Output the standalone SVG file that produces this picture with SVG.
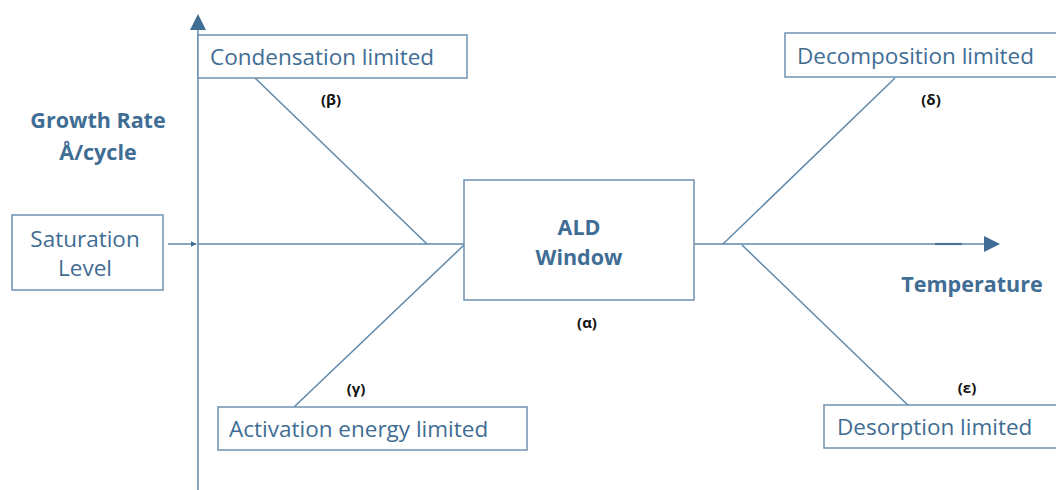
<svg xmlns="http://www.w3.org/2000/svg" width="1056" height="490" viewBox="0 0 1056 490">
<defs>
<style>
.box{fill:#fff;stroke:#6e93b2;stroke-width:1.5}
.ln{stroke:#5f88aa;stroke-width:1.5;fill:none}
.t{font-family:"Open Sans","Liberation Sans",sans-serif;fill:#3f6d94;font-size:22.5px}
.b{font-family:"Open Sans","Liberation Sans",sans-serif;fill:#3f6d94;font-size:21.5px;font-weight:bold}
.g{font-family:"Open Sans","Liberation Sans",sans-serif;fill:#111;font-size:15px;font-weight:bold;text-anchor:middle}
</style>
<marker id="ah" viewBox="0 0 10 10" refX="9" refY="5" markerWidth="6" markerHeight="6" orient="auto" markerUnits="userSpaceOnUse"><path d="M0,0L10,5L0,10z" fill="#3f6d94"/></marker>
</defs>
<rect width="1056" height="490" fill="#fff"/>
<g id="connectors">
<line class="ln" x1="198" y1="490" x2="198" y2="28"/>
<path d="M190,30L198,14L206,30z" fill="#3f6d94"/>
<line class="ln" x1="198" y1="244" x2="464" y2="244"/>
<line class="ln" x1="694" y1="244" x2="988" y2="244"/>
<line x1="935" y1="244" x2="962" y2="244" stroke="#4a7598" stroke-width="2.2"/>
<path d="M984,236L1000,244L984,252z" fill="#3f6d94"/>
<line class="ln" x1="168" y1="244" x2="196" y2="244" marker-end="url(#ah)"/>
<line class="ln" x1="255" y1="78" x2="427" y2="244"/>
<line class="ln" x1="464" y1="245" x2="293" y2="408"/>
<line class="ln" x1="723" y1="244" x2="895" y2="78"/>
<line class="ln" x1="742" y1="245" x2="913" y2="410"/>
</g>
<g id="axis-y-label">
<text class="b" x="98" y="128" text-anchor="middle">Growth Rate</text>
<text class="b" x="98" y="160" text-anchor="middle">Å/cycle</text>
</g>
<g id="axis-x-label">
<text class="b" x="972" y="292" text-anchor="middle">Temperature</text>
</g>
<g id="condensation">
<rect class="box" x="198" y="35" width="269" height="43"/>
<text class="t" x="210" y="65">Condensation limited</text>
<text class="g" x="331" y="105">(β)</text>
</g>
<g id="saturation">
<rect class="box" x="12" y="215" width="151" height="75"/>
<text class="t" x="85" y="247" text-anchor="middle">Saturation</text>
<text class="t" x="85" y="276" text-anchor="middle">Level</text>
</g>
<g id="ald-window">
<rect class="box" x="464" y="180" width="230" height="120"/>
<text class="b" x="579" y="235" font-size="23" text-anchor="middle">ALD</text>
<text class="b" x="579" y="265" font-size="23" text-anchor="middle">Window</text>
<text class="g" x="587" y="328">(α)</text>
</g>
<g id="activation">
<rect class="box" x="218" y="407" width="309" height="43"/>
<text class="t" x="229" y="437">Activation energy limited</text>
<text class="g" x="356" y="394">(γ)</text>
</g>
<g id="decomposition">
<rect class="box" x="785" y="33" width="280" height="44"/>
<text class="t" x="797" y="64">Decomposition limited</text>
<text class="g" x="931" y="105">(δ)</text>
</g>
<g id="desorption">
<rect class="box" x="824" y="405" width="240" height="43"/>
<text class="t" x="837" y="435">Desorption limited</text>
<text class="g" x="967" y="393">(ε)</text>
</g>
</svg>
